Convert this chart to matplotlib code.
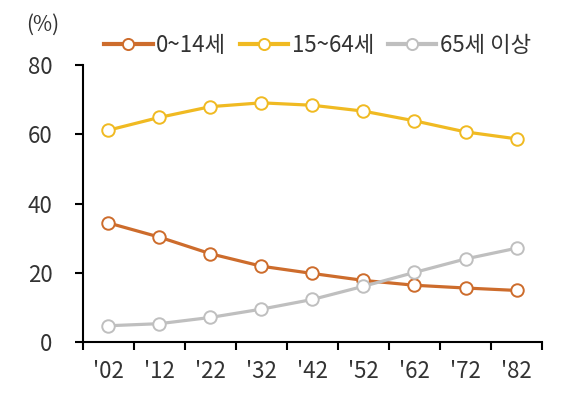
#!/usr/bin/env python3
"""Population share by age group, line chart."""

import matplotlib

matplotlib.use("Agg")
import matplotlib.pyplot as plt
from matplotlib.lines import Line2D

plt.rcParams["font.family"] = ["Noto Sans CJK KR", "DejaVu Sans"]

years = ["'02", "'12", "'22", "'32", "'42", "'52", "'62", "'72", "'82"]
age_0_14 = [34.4, 30.3, 25.5, 21.9, 19.8, 17.8, 16.4, 15.6, 14.9]
age_15_64 = [61.2, 64.9, 68.0, 69.1, 68.4, 66.7, 63.9, 60.7, 58.7]
age_65_plus = [4.7, 5.3, 7.1, 9.5, 12.3, 16.1, 20.1, 24.0, 27.1]
labels = ["0~14세", "15~64세", "65세 이상"]
colors = ["#CD6C2C", "#F0BA22", "#BFBFBF"]

fig = plt.figure(figsize=(5.76, 3.97), dpi=100)
ax = fig.add_axes([0.144, 0.1385, 0.797, 0.6975])

x = list(range(len(years)))
for vals, color, lab in zip([age_0_14, age_15_64, age_65_plus], colors, labels):
    ax.plot(x, vals, color=color, linewidth=2.3, marker="o", markersize=9,
            markerfacecolor="white", markeredgecolor=color, markeredgewidth=1.4,
            label=lab, zorder=3)

ax.set_xlim(-0.5, 8.5)
ax.set_ylim(0, 80)
ax.set_yticks([0, 20, 40, 60, 80])
ax.set_xticks([i - 0.5 for i in range(len(years) + 1)])
ax.set_xticklabels([])
ax.set_xticks(x, minor=True)
ax.set_xticklabels(years, minor=True)
ax.tick_params(axis="x", which="minor", length=0, pad=13, labelsize=16, labelcolor="#333333")
ax.tick_params(axis="x", which="major", length=6, width=1.5, direction="out")
ax.tick_params(axis="y", length=6, width=1.5, direction="out", pad=16, labelsize=16, labelcolor="#333333")
for side in ["top", "right"]:
    ax.spines[side].set_visible(False)
for side in ["left", "bottom"]:
    ax.spines[side].set_linewidth(1.5)

fig.text(0.045, 0.965, "(%)", fontsize=15, color="#333333", va="top")

handles = [Line2D([0], [0], color=c, linewidth=3, marker="o", markersize=8,
                  markerfacecolor="white", markeredgecolor=c, markeredgewidth=1.4)
           for c in colors]
fig.legend(handles, labels, loc="center", bbox_to_anchor=(0.551, 0.886), ncol=3,
           frameon=False, fontsize=16, handlelength=2.2, handletextpad=0.15,
           columnspacing=0.6, labelcolor="#333333")

fig.savefig("out.png", dpi=100)
